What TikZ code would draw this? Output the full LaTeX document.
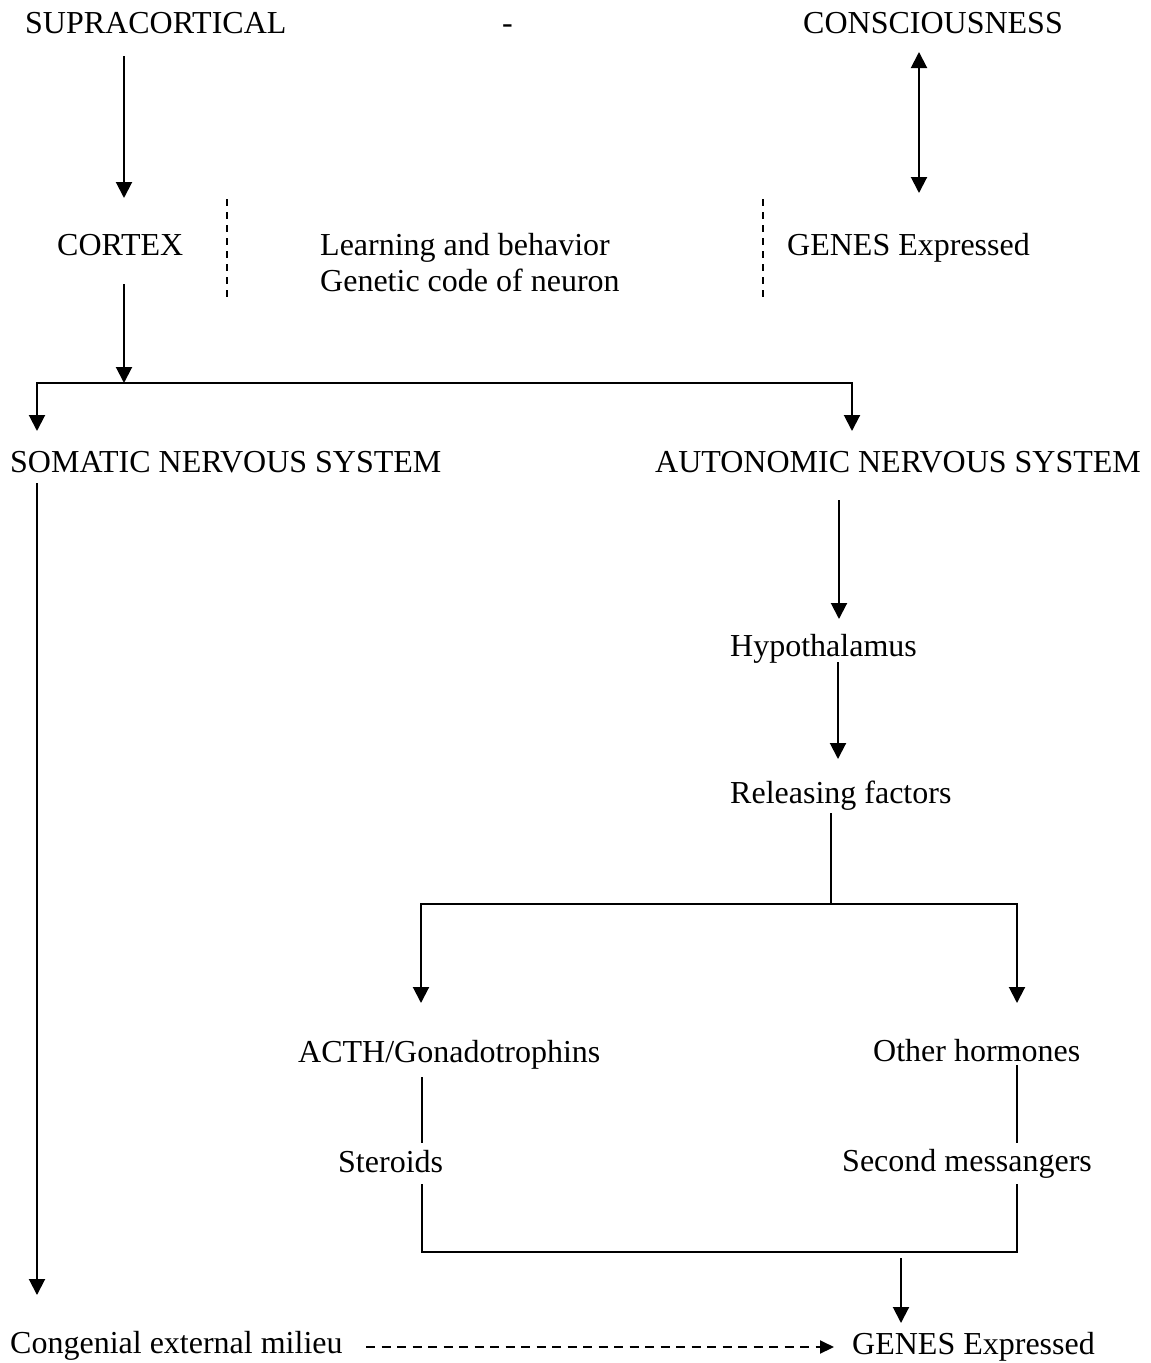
\documentclass[tikz,border=0pt]{standalone}
\usepackage{fontspec}
\setmainfont{Liberation Serif}
\usetikzlibrary{arrows.meta}
\begin{document}
\begin{tikzpicture}[x=1pt,y=-1pt,
  lbl/.style={anchor=base west,inner sep=0pt,font=\fontsize{32}{36}\selectfont},
  ln/.style={line width=2pt},
  arr/.style={ln,-{Triangle[width=16pt,length=16pt]}},
  darr/.style={ln,{Triangle[width=16pt,length=16pt]}-{Triangle[width=16pt,length=16pt]}},
  sep/.style={line width=1.4pt,dash pattern=on 7pt off 6pt},
  darrow/.style={line width=2pt,dash pattern=on 9pt off 6.5pt,-{Triangle[width=13pt,length=14pt]}}
]
\useasboundingbox[fill=white] (0,0) rectangle (1151,1363);
% texts
\node[lbl] (sup) at (25,33) {SUPRACORTICAL};
\node[lbl] (hyph) at (502,33) {-};
\node[lbl] (cons) at (803,33) {CONSCIOUSNESS};
\node[lbl] (cortex) at (57,255) {CORTEX};
\node[lbl] (learn) at (320,255) {Learning and behavior};
\node[lbl] (genetic) at (320,291) {Genetic code of neuron};
\node[lbl] (genesA) at (787,255) {GENES Expressed};
\node[lbl] (soma) at (10,472) {SOMATIC NERVOUS SYSTEM};
\node[lbl] (auto) at (655,472) {AUTONOMIC NERVOUS SYSTEM};
\node[lbl] (hypo) at (730,656) {Hypothalamus};
\node[lbl] (rel) at (730,803) {Releasing factors};
\node[lbl] (acth) at (298,1062) {ACTH/Gonadotrophins};
\node[lbl] (other) at (873,1061) {Other hormones};
\node[lbl] (ster) at (338,1172) {Steroids};
\node[lbl] (second) at (842,1171) {Second messangers};
\node[lbl] (cong) at (10,1353) {Congenial external milieu};
\node[lbl] (genesB) at (852,1354) {GENES Expressed};
% connector end points
\coordinate (supOut) at (124,56);
\coordinate (cortexIn) at (124,198);
\coordinate (consIn) at (919,52);
\coordinate (genesAOut) at (919,193);
\coordinate (sepLtop) at (227,199);
\coordinate (sepLbot) at (227,303);
\coordinate (sepRtop) at (763,199);
\coordinate (sepRbot) at (763,303);
\coordinate (cortexOut) at (124,284);
\coordinate (splitA) at (124,383);
\coordinate (barL) at (37,383);
\coordinate (barR) at (852,383);
\coordinate (somaIn) at (37,431);
\coordinate (autoIn) at (852,431);
\coordinate (somaOut) at (37,483);
\coordinate (congIn) at (37,1295);
\coordinate (autoOut) at (839,500);
\coordinate (hypoIn) at (839,619);
\coordinate (hypoOut) at (838,662);
\coordinate (relIn) at (838,759);
\coordinate (relOut) at (831,813);
\coordinate (splitB) at (831,904);
\coordinate (barBL) at (421,904);
\coordinate (barBR) at (1017,904);
\coordinate (acthIn) at (421,1003);
\coordinate (otherIn) at (1017,1003);
\coordinate (acthOut) at (422,1077);
\coordinate (sterIn) at (422,1143);
\coordinate (otherOut) at (1017,1065);
\coordinate (secondIn) at (1017,1143);
\coordinate (sterOut) at (422,1184);
\coordinate (secondOut) at (1017,1184);
\coordinate (joinL) at (422,1252);
\coordinate (joinR) at (1017,1252);
\coordinate (joinOut) at (901,1258);
\coordinate (genesBIn) at (901,1323);
\coordinate (congOut) at (366,1347);
\coordinate (genesBIn2) at (834,1347);
% connectors
\draw[arr] (supOut) -- (cortexIn);
\draw[darr] (consIn) -- (genesAOut);
\draw[sep] (sepLtop) -- (sepLbot);
\draw[sep] (sepRtop) -- (sepRbot);
\draw[darr] (somaIn) -- (barL) -- (barR) -- (autoIn);
\draw[arr] (cortexOut) -- (splitA);
\draw[arr] (somaOut) -- (congIn);
\draw[arr] (autoOut) -- (hypoIn);
\draw[arr] (hypoOut) -- (relIn);
\draw[ln] (relOut) -- (splitB);
\draw[darr] (acthIn) -- (barBL) -- (barBR) -- (otherIn);
\draw[ln] (acthOut) -- (sterIn);
\draw[ln] (otherOut) -- (secondIn);
\draw[ln] (sterOut) -- (joinL) -- (joinR) -- (secondOut);
\draw[arr] (joinOut) -- (genesBIn);
\draw[darrow] (congOut) -- (genesBIn2);
\end{tikzpicture}
\end{document}
